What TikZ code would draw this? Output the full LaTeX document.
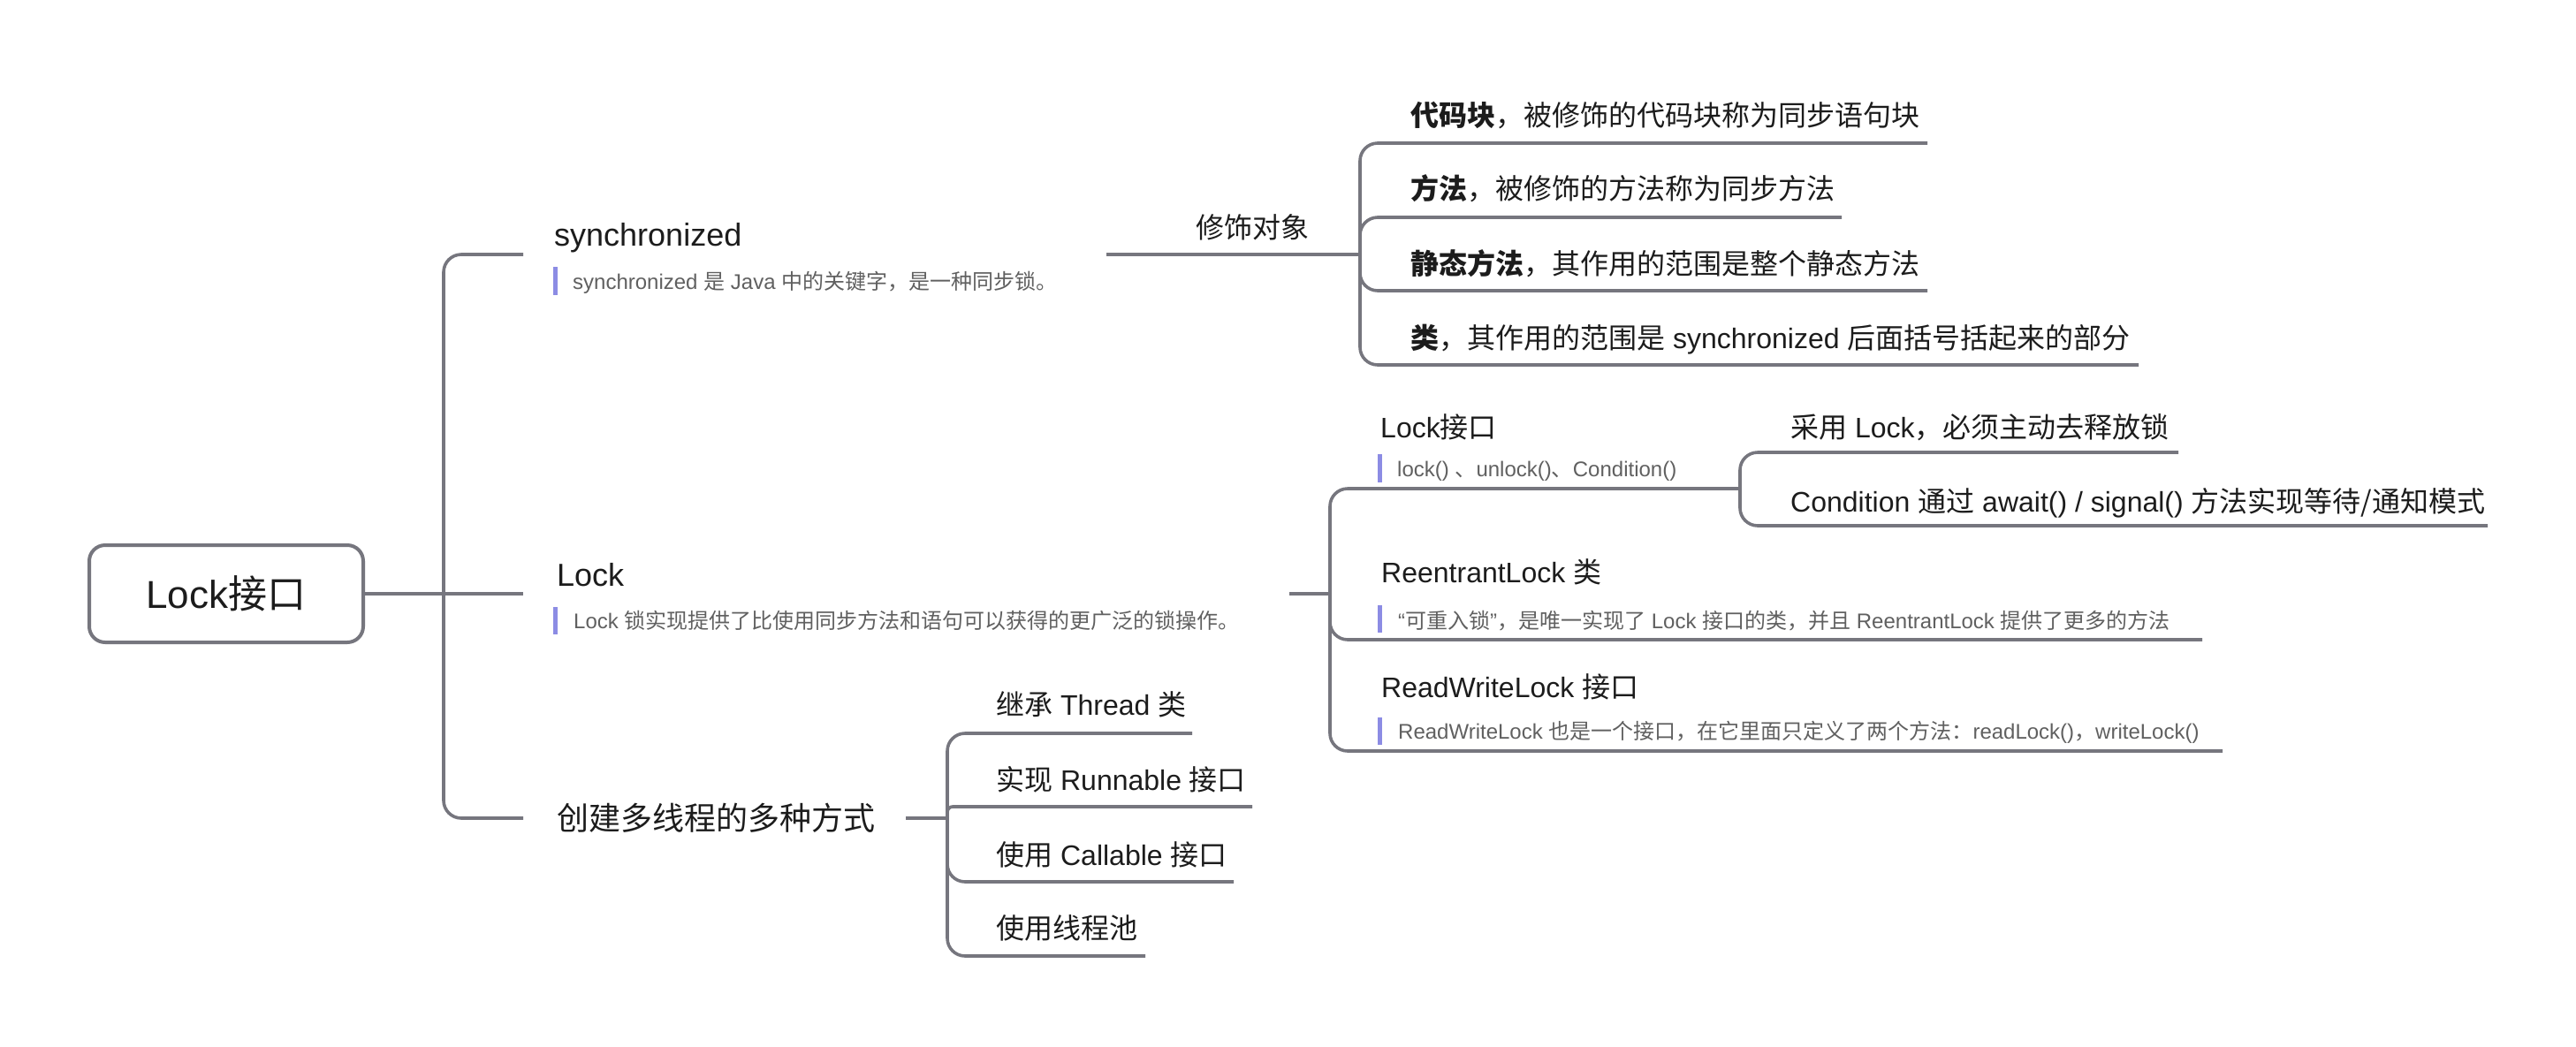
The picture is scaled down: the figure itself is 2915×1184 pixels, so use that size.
\documentclass[tikz,border=0pt]{standalone}
\usepackage{fontspec}
\setmainfont{Liberation Sans}
\newfontfamily\cjk{Noto Sans CJK SC}
\newcommand\zh[1]{{\cjk #1}}
\newcommand\zhb[1]{{\cjk\bfseries #1}}
\definecolor{linegray}{RGB}{118,118,126}
\definecolor{txt}{RGB}{28,28,28}
\definecolor{desccol}{RGB}{96,96,96}
\definecolor{barcol}{RGB}{140,140,228}
\tikzset{
  conn/.style={draw=linegray, line width=3.6pt, rounded corners=20pt},
  lvlone/.style={anchor=base west, inner sep=0pt, text=txt, font=\fontsize{36}{40}\selectfont},
  lvltwo/.style={anchor=base west, inner sep=0pt, text=txt, font=\fontsize{32}{36}\selectfont},
  desctext/.style={anchor=base west, inner sep=0pt, text=desccol, font=\fontsize{24}{28}\selectfont},
  descbar/.style={fill=barcol, draw=none},
  rootbox/.style={draw=linegray, line width=4pt, rounded corners=18pt, fill=white,
    minimum width=310pt, minimum height=110pt, text=txt, font=\fontsize{44}{48}\selectfont},
}
\begin{document}
\begin{tikzpicture}[x=1pt, y=-1pt]
\useasboundingbox (0,0) rectangle (2915,1184);
\fill[white] (0,0) rectangle (2915,1184);

% ---------- coordinates of connector ends ----------
\coordinate (mt) at (502,672);
\coordinate (sync-in) at (592,288);
\coordinate (lock-in) at (592,672);
\coordinate (thr-in) at (592,926);
\coordinate (sync-out) at (1252,288);
\coordinate (xs-j) at (1539,288);
\coordinate (c1-end) at (2181,162);
\coordinate (c2-end) at (2084,246);
\coordinate (c3-end) at (2181,329);
\coordinate (c4-end) at (2420,413);
\coordinate (lock-out) at (1459,672);
\coordinate (lk-j) at (1505,672);
\coordinate (lki-end) at (1969,553);
\coordinate (re-end) at (2492,724);
\coordinate (rw-end) at (2515,850);
\coordinate (a1-end) at (2465,512);
\coordinate (a2-end) at (2815,595);
\coordinate (thr-out) at (1025,926);
\coordinate (th-j) at (1072,926);
\coordinate (t1-end) at (1349,830);
\coordinate (t2-end) at (1417,913);
\coordinate (t3-end) at (1396,998);
\coordinate (t4-end) at (1296,1082);

% ---------- root ----------
\node[rootbox] (root) at (256,672) {Lock\zh{接口}};

% ---------- connectors ----------
\draw[conn] (root.east) -- (lock-in);
\draw[conn] (mt) |- (sync-in);
\draw[conn] (mt) |- (thr-in);

\draw[conn] (sync-out) -- (xs-j);
\draw[conn] (xs-j) |- (c1-end);
\draw[conn] (xs-j) |- (c2-end);
\draw[conn] (xs-j) |- (c3-end);
\draw[conn] (xs-j) |- (c4-end);

\draw[conn] (lock-out) -- (lk-j);
\draw[conn] (lk-j) |- (lki-end);
\draw[conn] (lk-j) |- (re-end);
\draw[conn] (lk-j) |- (rw-end);
\draw[conn] (lki-end) |- (a1-end);
\draw[conn] (lki-end) |- (a2-end);

\draw[conn] (thr-out) -- (th-j);
\draw[conn] (th-j) |- (t1-end);
\draw[conn, rounded corners=6pt] (th-j) |- (t2-end);
\draw[conn] (th-j) |- (t3-end);
\draw[conn] (th-j) |- (t4-end);

% ---------- level 1 ----------
\node[lvlone] (sync) at (627,278) {synchronized};
\fill[descbar] (626,302) rectangle (631,334);
\node[desctext] (syncd) at (648,327) {synchronized \zh{是} Java \zh{中的关键字，是一种同步锁。}};

\node[lvlone] (lock) at (630,663) {Lock};
\fill[descbar] (626,687) rectangle (631,718);
\node[desctext] (lockd) at (649,711) {Lock \zh{锁实现提供了比使用同步方法和语句可以获得的更广泛的锁操作。}};

\node[lvlone] (thr) at (630,939) {\zh{创建多线程的多种方式}};

% ---------- synchronized children ----------
\node[lvltwo] (xs) at (1353,269) {\zh{修饰对象}};
\node[lvltwo] (c1) at (1596,142) {\zhb{代码块}\zh{，被修饰的代码块称为同步语句块}};
\node[lvltwo] (c2) at (1596,225) {\zhb{方法}\zh{，被修饰的方法称为同步方法}};
\node[lvltwo] (c3) at (1596,310) {\zhb{静态方法}\zh{，其作用的范围是整个静态方法}};
\node[lvltwo] (c4) at (1596,394) {\zhb{类}\zh{，其作用的范围是} synchronized \zh{后面括号括起来的部分}};

% ---------- Lock children ----------
\node[lvltwo] (lki) at (1562,495) {Lock\zh{接口}};
\fill[descbar] (1559,514) rectangle (1564,546);
\node[desctext] (lkid) at (1581,539) {lock() \zh{、}unlock()\zh{、}Condition()};
\node[lvltwo] (a1) at (2026,495) {\zh{采用} Lock\zh{，必须主动去释放锁}};
\node[lvltwo] (a2) at (2026,579) {Condition \zh{通过} await() / signal() \zh{方法实现等待/通知模式}};

\node[lvltwo] (re) at (1563,659) {ReentrantLock \zh{类}};
\fill[descbar] (1559,685) rectangle (1564,716);
\node[desctext] (red) at (1582,711) {“\zh{可重入锁}”\zh{，是唯一实现了} Lock \zh{接口的类，并且} ReentrantLock \zh{提供了更多的方法}};

\node[lvltwo] (rw) at (1563,789) {ReadWriteLock \zh{接口}};
\fill[descbar] (1559,812) rectangle (1564,843);
\node[desctext] (rwd) at (1582,836) {ReadWriteLock \zh{也是一个接口，在它里面只定义了两个方法：}readLock()\zh{，}writeLock()};

% ---------- thread children ----------
\node[lvltwo] (t1) at (1127,809) {\zh{继承} Thread \zh{类}};
\node[lvltwo] (t2) at (1127,894) {\zh{实现} Runnable \zh{接口}};
\node[lvltwo] (t3) at (1127,979) {\zh{使用} Callable \zh{接口}};
\node[lvltwo] (t4) at (1127,1062) {\zh{使用线程池}};
\end{tikzpicture}
\end{document}
